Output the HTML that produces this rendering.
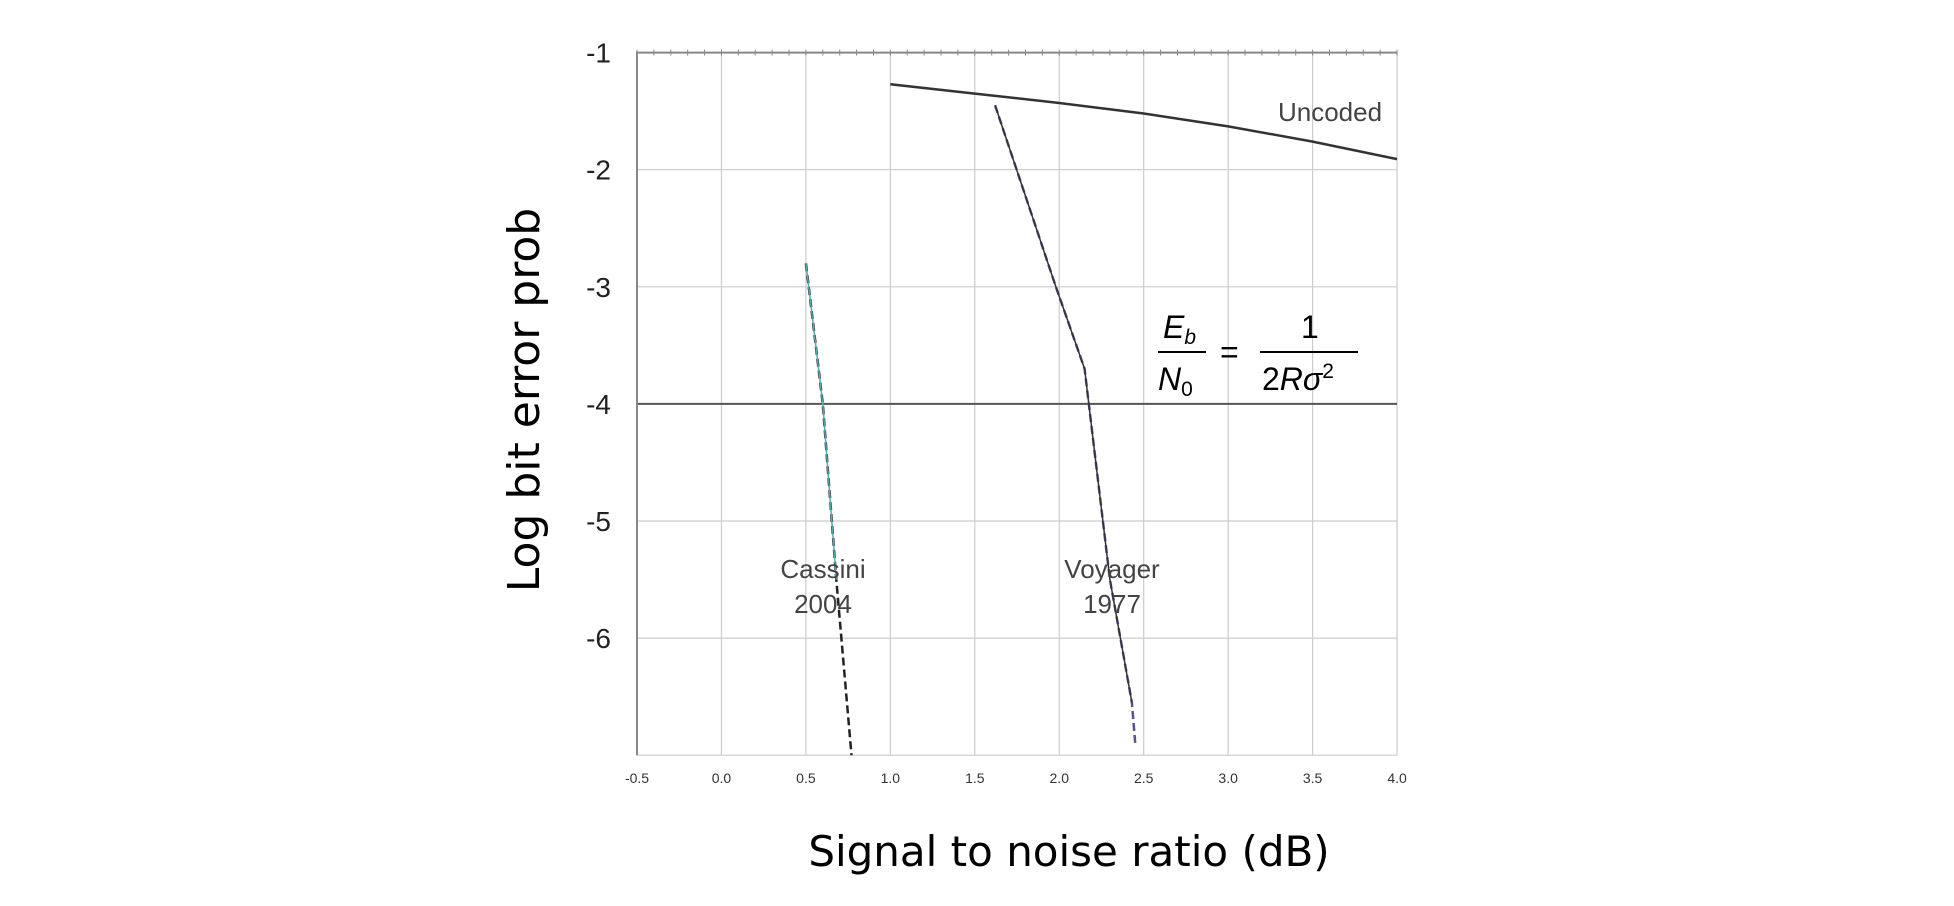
<!DOCTYPE html>
<html><head><meta charset="utf-8"><style>
body{margin:0;background:#fff;}
svg{display:block;}
text{font-family:"Liberation Sans",sans-serif;}
</style></head><body>
<svg id="chart" width="1954" height="906">
<g id="grid"></g>
<g id="series"></g>
<g id="axes"></g>
<text x="539" y="400" font-size="44" text-anchor="middle" transform="rotate(-90 539 400)" style="font-family:'DejaVu Sans',sans-serif">Log bit error prob</text>
<text x="1069" y="866" font-size="42" text-anchor="middle" style="font-family:'DejaVu Sans',sans-serif">Signal to noise ratio (dB)</text>
<text x="1330" y="121" font-size="26" fill="#444" text-anchor="middle">Uncoded</text>
<text x="823" y="578" font-size="26" fill="#444" text-anchor="middle"><tspan x="823">Cassini</tspan><tspan x="823" dy="35">2004</tspan></text>
<text x="1112" y="578" font-size="26" fill="#444" text-anchor="middle"><tspan x="1112">Voyager</tspan><tspan x="1112" dy="35">1977</tspan></text>
<g style="font-family:'Liberation Serif',serif" font-size="32">
<text x="1163" y="338" font-style="italic">E<tspan font-size="21" dy="6">b</tspan></text>
<line x1="1158" y1="352" x2="1206" y2="352" stroke="#000" stroke-width="2"/>
<text x="1158" y="390" font-style="italic">N<tspan font-style="normal" font-size="21" dy="6">0</tspan></text>
<text x="1220" y="363">=</text>
<text x="1301" y="338">1</text>
<line x1="1260" y1="352" x2="1358" y2="352" stroke="#000" stroke-width="2"/>
<text x="1262" y="390">2<tspan font-style="italic">Rσ</tspan><tspan font-size="21" dy="-12">2</tspan></text>
</g>
</svg>
<script>
const xTicks=[-0.5,0.0,0.5,1.0,1.5,2.0,2.5,3.0,3.5,4.0];
const yTicks=[-1,-2,-3,-4,-5,-6,-7];
const uncodedX=[1.0,1.5,2.0,2.5,3.0,3.5,4.0];
const uncodedY=[-1.27,-1.35,-1.43,-1.52,-1.63,-1.76,-1.91];
const voyagerX=[1.62,1.98,2.15,2.3,2.43,2.45];
const voyagerY=[-1.45,-3.0,-3.7,-5.5,-6.55,-6.9];
const cassiniX=[0.5,0.6,0.68,0.77];
const cassiniY=[-2.8,-4.0,-5.5,-7.0];
const NS='http://www.w3.org/2000/svg';
const x=v=>637+(v+0.5)*168.9;
const y=v=>52.6+(-1-v)*117.1;
function mk(p,t,a){const e=document.createElementNS(NS,t);for(const k in a)e.setAttribute(k,a[k]);p.appendChild(e);return e;}
const grid=document.getElementById('grid'),axes=document.getElementById('axes'),ser=document.getElementById('series');
xTicks.forEach(t=>{
 const l=mk(grid,'line',{x1:x(t),x2:x(t),y1:y(-1),y2:y(-7),stroke:'#ccc','stroke-width':1.2});
 
 
 const tx=mk(axes,'text',{x:x(t),y:783,'font-size':14,'text-anchor':'middle',fill:'#333'});
 tx.textContent=t.toFixed(1);
 
 
});
yTicks.forEach(t=>{
 const l=mk(grid,'line',{x1:x(-0.5),x2:x(4),y1:y(t),y2:y(t),stroke:t===-4?'#555':'#ccc','stroke-width':t===-4?2:1.2});
 
 
 if(t!==-7){
 const tx=mk(axes,'text',{x:611,y:y(t)+10,'font-size':28,'text-anchor':'end',fill:'#222'});
 tx.textContent=t;
 
 }
});
const ax=mk(axes,'path',{d:`M${x(-0.5)} ${y(-7)}V${y(-1)}H${x(4)}`,fill:'none',stroke:'#888','stroke-width':2});


for(let v=-0.5;v<=4.001;v+=0.1){const m=mk(axes,'line',{x1:x(v),x2:x(v),y1:y(-1)-3,y2:y(-1)+3,stroke:'#888'});
 
 }
function poly(X,Y,attrs,name){const pts=X.map((v,i)=>x(v)+','+y(Y[i])).join(' ');const p=mk(ser,'polyline',Object.assign({points:pts,fill:'none'},attrs));
 
 }
poly(uncodedX,uncodedY,{stroke:'#333','stroke-width':2.5},'uncoded-line');
poly(voyagerX,voyagerY,{stroke:'#558','stroke-width':2.5,'stroke-dasharray':'8 4'},'voyager-dashed');
poly(voyagerX.slice(0,5),voyagerY.slice(0,5),{stroke:'#333','stroke-width':1.5},'voyager-line');
poly(cassiniX,cassiniY,{stroke:'#222','stroke-width':2.5,'stroke-dasharray':'8 4'},'cassini-dashed');
poly(cassiniX.slice(0,3),cassiniY.slice(0,3),{stroke:'#5aa','stroke-width':1.5},'cassini-line');
</script>
</body></html>
